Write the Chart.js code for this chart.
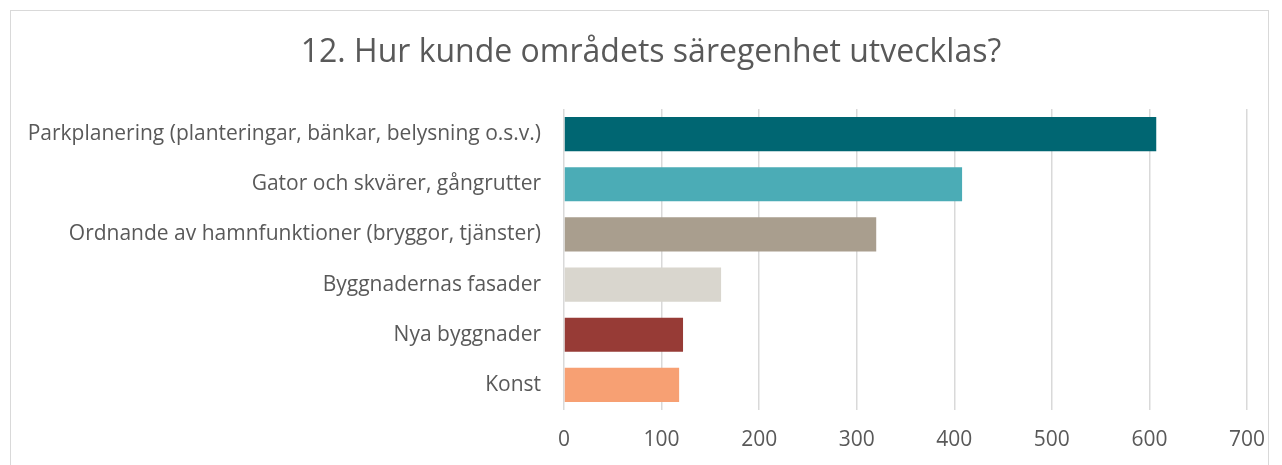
<!DOCTYPE html>
<html>
<head>
<meta charset="utf-8">
<script src="https://cdn.jsdelivr.net/npm/chart.js@4"></script>
<style>
  body { margin: 0; background: #fff; }
  #wrap { position: relative; width: 1282px; height: 465px; overflow: hidden; }
  #ram { position: absolute; left: 10px; top: 10px; width: 1259px; height: 480px; border: 1px solid #d9d9d9; box-sizing: border-box; }
  canvas { position: absolute; left: 0; top: 0; }
</style>
</head>
<body>
<div id="wrap">
  <div id="ram"></div>
  <canvas id="chart" width="1282" height="465"></canvas>
</div>
<script>
const titel = "12. Hur kunde områdets säregenhet utvecklas?";

const kategorier = [
  "Parkplanering (planteringar, bänkar, belysning o.s.v.)",
  "Gator och skvärer, gångrutter",
  "Ordnande av hamnfunktioner (bryggor, tjänster)",
  "Byggnadernas fasader",
  "Nya byggnader",
  "Konst"
];

const svar = [607, 408, 320, 161, 122, 118];

const farger = ["#006672", "#4bacb6", "#a99e8e", "#d9d6ce", "#973b36", "#f7a073"];

const xMin = 0;
const xMax = 700;
const xSteg = 100;

const textFarg = "#595959";

// rubriken ligger mitt i ramen, inte mitt i canvas-ytan
const rubrik = {
  id: "rubrik",
  afterDraw(chart){
    const ctx = chart.ctx;
    ctx.save();
    ctx.fillStyle = textFarg;
    ctx.font = "32px 'Open Sans'";
    ctx.textAlign = "center";
    ctx.textBaseline = "middle";
    ctx.fillText(titel, 651, 53);
    ctx.restore();
  }
};

new Chart(document.getElementById("chart"), {
  type: "bar",
  data: {
    labels: kategorier,
    datasets: [{
      data: svar,
      backgroundColor: farger,
      barPercentage: 0.68,
      categoryPercentage: 1
    }]
  },
  options: {
    indexAxis: "y",
    responsive: false,
    animation: false,
    layout: { padding: { left: 0, right: 31, top: 109, bottom: 0 } },
    plugins: {
      legend: { display: false },
      tooltip: { enabled: false },
      title: { display: false }
    },
    scales: {
      x: {
        min: xMin,
        max: xMax,
        ticks: {
          stepSize: xSteg,
          color: textFarg,
          padding: 17,
          font: { family: "Open Sans", size: 21 }
        },
        grid: { color: "#d9d9d9", lineWidth: 1.5, drawTicks: false },
        border: { display: false },
        afterFit: s => { s.height = 55; }
      },
      y: {
        ticks: {
          color: textFarg,
          padding: 23,
          font: { family: "Open Sans", size: 21 }
        },
        grid: { display: false, drawTicks: false },
        border: { display: false },
        afterFit: s => { s.width = 564; }
      }
    }
  },
  plugins: [rubrik]
});
</script>
</body>
</html>
